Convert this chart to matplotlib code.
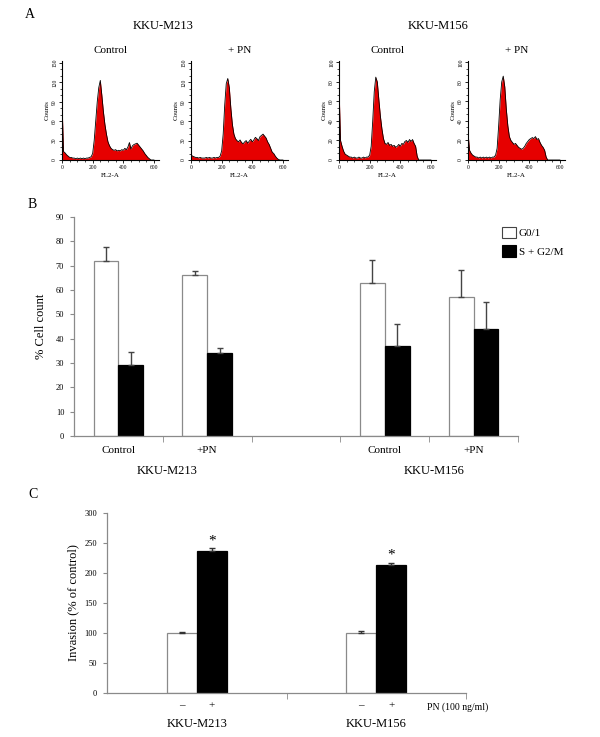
import numpy as np
import matplotlib
matplotlib.use("Agg")
import matplotlib.pyplot as plt
from matplotlib.patches import Patch
from matplotlib.ticker import MultipleLocator

plt.rcParams["font.family"] = ["Liberation Serif", "DejaVu Serif"]

W, H = 600, 737

# ---- panel A: flow cytometry histograms (counts read every 10 FL2-A units, 0..600)
FL2_BINS = np.arange(0, 610, 10)
M213_CTRL = [90, 13, 11, 8, 6, 4, 4, 3, 3, 2, 3, 2, 3, 2, 3, 2, 3, 3, 4, 5,
             10, 30, 60, 90, 112, 123, 100, 75, 55, 40, 28, 22, 18, 16, 15, 16, 14, 15, 14, 16,
             15, 18, 16, 20, 27, 17, 22, 24, 25, 26, 23, 20, 17, 14, 10, 7, 4, 2, 0, 0, 0]
M213_PN = [8, 6, 5, 4, 4, 3, 4, 3, 3, 3, 4, 3, 4, 3, 3, 4, 3, 4, 4, 6,
           14, 40, 85, 118, 126, 112, 80, 55, 40, 33, 30, 28, 31, 27, 25, 28, 30, 26, 29, 32,
           28, 31, 35, 33, 30, 36, 38, 40, 37, 34, 28, 24, 18, 12, 10, 6, 3, 1, 0, 0, 0]
M156_CTRL = [76, 20, 14, 9, 6, 5, 4, 3, 3, 2, 3, 2, 2, 3, 2, 2, 3, 2, 3, 3,
             5, 14, 40, 70, 85, 80, 62, 45, 32, 22, 17, 16, 18, 15, 16, 14, 15, 13, 14, 16,
             14, 17, 16, 19, 20, 18, 21, 19, 21, 17, 14, 4, 0, 0, 0, 0, 0, 0, 0, 0, 0]
M156_PN = [28, 10, 7, 5, 4, 3, 3, 2, 3, 2, 3, 2, 3, 2, 3, 2, 3, 3, 5, 12,
           35, 62, 80, 86, 75, 52, 35, 24, 20, 18, 16, 17, 15, 13, 12, 11, 12, 14, 17, 19,
           21, 22, 23, 22, 24, 21, 22, 18, 15, 13, 10, 3, 0, 0, 0, 0, 0, 0, 0, 0, 0]

# ---- panel B: cell cycle distribution (%)
B_LABELS = ["Control", "+PN", "", "Control", "+PN"]
G01 = [72, 66, np.nan, 63, 57]
G01_ERR = [5.5, 2, 0, 9.3, 11.2]
SG2M = [29, 34, np.nan, 37, 44]
SG2M_ERR = [5.7, 2, 0, 9.2, 11.2]

# ---- panel C: invasion (% of control)
C_LINES = ["KKU-M213", "KKU-M156"]
INV_CTRL = [100, 100]
INV_CTRL_ERR = [2.5, 3]
INV_PN = [237, 213]
INV_PN_ERR = [4, 4.5]

fig = plt.figure(figsize=(W / 100, H / 100), dpi=100)


def px_axes(x0, y0, x1, y1):
    return fig.add_axes([x0 / W, 1 - y1 / H, (x1 - x0) / W, (y1 - y0) / H])


def ftext(x, y, s, **kw):
    fig.text(x / W, 1 - y / H, s, **kw)


# ---------------- panel A
ftext(30, 14, "A", fontsize=10, ha="center", va="center")
ftext(163, 26, "KKU-M213", fontsize=9, ha="center", va="center")
ftext(438, 26, "KKU-M156", fontsize=9, ha="center", va="center")

hists = [
    (62, M213_CTRL, 153, 30, "Control"),
    (191, M213_PN, 153, 30, "+ PN"),
    (339, M156_CTRL, 101.5, 20, "Control"),
    (468, M156_PN, 101.5, 20, "+ PN"),
]
for x0, vals, ymax, ystep, title in hists:
    ax = px_axes(x0, 61, x0 + 97, 160)
    ax.fill_between(FL2_BINS, vals, color="#e60000", lw=0)
    ax.plot(FL2_BINS, vals, color="black", lw=0.6)
    ax.set_xlim(0, 633)
    ax.set_ylim(0, ymax)
    for s in ["top", "right"]:
        ax.spines[s].set_visible(False)
    for s in ["left", "bottom"]:
        ax.spines[s].set_linewidth(0.8)
    ax.set_xticks([0, 200, 400, 600])
    ax.set_yticks(np.arange(0, ymax, ystep))
    ax.xaxis.set_minor_locator(MultipleLocator(50))
    ax.yaxis.set_minor_locator(MultipleLocator(ystep / 3))
    ax.tick_params(labelsize=4, length=2.5, width=0.6, pad=1)
    ax.tick_params(which="minor", length=1.2, width=0.5)
    for lab in ax.get_yticklabels():
        lab.set_rotation(90)
        lab.set_va("center")
    ax.set_ylabel("Counts", fontsize=5, labelpad=2)
    ax.set_xlabel("FL2-A", fontsize=5, labelpad=2)
    ax.set_title(title, fontsize=8, pad=6)

# ---------------- panel B
ftext(32, 204, "B", fontsize=10, ha="center", va="center")
axb = px_axes(74, 217, 518, 436)
xb = np.arange(len(B_LABELS)) + 0.5
bw = 0.28
axb.bar(xb - bw / 2, G01, bw, color="white", edgecolor="#8a8a8a", lw=0.9)
axb.bar(xb + bw / 2, SG2M, bw, color="black", edgecolor="black", lw=0.9)
axb.errorbar(xb - bw / 2, G01, yerr=[np.zeros(5), G01_ERR], fmt="none",
             ecolor="#444444", elinewidth=1, capsize=2.5, capthick=1)
axb.errorbar(xb + bw / 2, SG2M, yerr=[np.zeros(5), SG2M_ERR], fmt="none",
             ecolor="#444444", elinewidth=1, capsize=2.5, capthick=1)
axb.set_xlim(0, 5)
axb.set_ylim(0, 90)
axb.set_yticks(np.arange(0, 100, 10))
axb.set_xticks(xb)
axb.set_xticklabels(B_LABELS)
axb.set_xticks(np.arange(1, 6), minor=True)
axb.tick_params(axis="x", which="major", length=0, labelsize=8, pad=7)
axb.tick_params(axis="x", which="minor", length=4, color="#8a8a8a")
axb.tick_params(axis="y", labelsize=6, length=3, color="#8a8a8a", pad=4)
for s in ["top", "right"]:
    axb.spines[s].set_visible(False)
for s in ["left", "bottom"]:
    axb.spines[s].set_color("#8a8a8a")
    axb.spines[s].set_linewidth(0.9)
axb.set_ylabel("% Cell count", fontsize=9, labelpad=6)
axb.text(1.05, -0.16, "KKU-M213", transform=axb.get_xaxis_transform(),
         fontsize=9, ha="center", va="center")
axb.text(4.05, -0.16, "KKU-M156", transform=axb.get_xaxis_transform(),
         fontsize=9, ha="center", va="center")
handles = [Patch(facecolor="white", edgecolor="#444444", lw=0.8, label="G0/1"),
           Patch(facecolor="black", edgecolor="black", lw=0.8, label="S + G2/M")]
fig.legend(handles=handles, loc="upper left", bbox_to_anchor=(502 / W, 1 - 227 / H),
           frameon=False, fontsize=8, handlelength=1.25, handleheight=1.2,
           handletextpad=0.25, labelspacing=0.6, borderpad=0, borderaxespad=0)

# ---------------- panel C
ftext(33, 495, "C", fontsize=10, ha="center", va="center")
axc = px_axes(107, 513, 466, 693)
xc = np.arange(len(C_LINES)) + 0.5
cw = 0.168
axc.bar(xc - cw / 2, INV_CTRL, cw, color="white", edgecolor="#8a8a8a", lw=0.9)
axc.bar(xc + cw / 2, INV_PN, cw, color="black", edgecolor="black", lw=0.9)
axc.errorbar(xc - cw / 2, INV_CTRL, yerr=[np.zeros(2), INV_CTRL_ERR], fmt="none",
             ecolor="#333333", elinewidth=1, capsize=2.5, capthick=1)
axc.errorbar(xc + cw / 2, INV_PN, yerr=[np.zeros(2), INV_PN_ERR], fmt="none",
             ecolor="#333333", elinewidth=1, capsize=2.5, capthick=1)
for x, v, e in zip(xc + cw / 2, INV_PN, INV_PN_ERR):
    axc.text(x, v + e + 1, "*", fontsize=11, ha="center", va="bottom")
axc.set_xlim(0, 2)
axc.set_ylim(0, 300)
axc.set_yticks(np.arange(0, 350, 50))
axc.set_xticks(np.concatenate([xc - cw / 2, xc + cw / 2]))
axc.set_xticklabels(["\u2013", "\u2013", "+", "+"])
axc.set_xticks([1, 2], minor=True)
axc.tick_params(axis="x", which="major", length=0, labelsize=8, pad=6)
axc.tick_params(axis="x", which="minor", length=4, color="#8a8a8a")
axc.tick_params(axis="y", labelsize=6, length=3, color="#8a8a8a", pad=4)
for s in ["top", "right"]:
    axc.spines[s].set_visible(False)
for s in ["left", "bottom"]:
    axc.spines[s].set_color("#8a8a8a")
    axc.spines[s].set_linewidth(0.9)
axc.set_ylabel("Invasion (% of control)", fontsize=9, labelpad=4)
for x, name in zip(xc, C_LINES):
    axc.text(x, -0.17, name, transform=axc.get_xaxis_transform(),
             fontsize=9, ha="center", va="center")
axc.text(1.78, -0.078, "PN (100 ng/ml)", transform=axc.get_xaxis_transform(),
         fontsize=7, ha="left", va="center")

fig.savefig("out.png", dpi=100)
